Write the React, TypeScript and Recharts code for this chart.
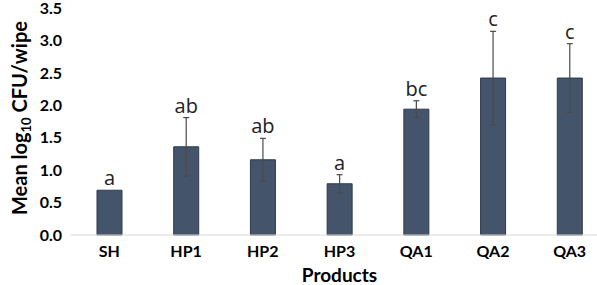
import { BarChart, Bar, XAxis, YAxis, ErrorBar, LabelList } from 'recharts';

const products = ['SH', 'HP1', 'HP2', 'HP3', 'QA1', 'QA2', 'QA3'];
const means = [0.69, 1.36, 1.16, 0.79, 1.94, 2.42, 2.42];
const errors = [0, 0.45, 0.33, 0.14, 0.13, 0.72, 0.53];
const letters = ['a', 'ab', 'ab', 'a', 'bc', 'c', 'c'];
const yTicks = [0, 0.5, 1, 1.5, 2, 2.5, 3, 3.5];

const data = products.map((p, i) => ({
  product: p,
  mean: means[i],
  err: errors[i],
  letter: letters[i],
}));

// letters sit just above the top of each error bar
const LetterLabel = (props: any) => {
  const { x, y, width, height, index } = props;
  const pxPerUnit = height / means[index];
  const top = y - errors[index] * pxPerUnit;
  return (
    <text
      x={x + width / 2}
      y={top - 5}
      textAnchor="middle"
      fontFamily="'Open Sans', sans-serif"
      fontSize={20}
      fill="#222"
    >
      {letters[index]}
    </text>
  );
};

const YLabel = () => (
  <text
    x={0}
    y={0}
    transform="translate(27,118) rotate(-90)"
    textAnchor="middle"
    fontFamily="Lato, sans-serif"
    fontWeight="bold"
    fontSize={20}
    fill="#000"
  >
    Mean log<tspan fontSize={13} dy={4}>10</tspan>
    <tspan dy={-4}> CFU/wipe</tspan>
  </text>
);

export default function App() {
  return (
    <div style={{ position: 'absolute', top: 0, left: 0, width: 597, height: 285, overflow: 'hidden', background: '#fff' }}>
      <BarChart width={610} height={285} data={data} margin={{ top: 8, right: 2, left: 0, bottom: 0 }}>
        <XAxis
          dataKey="product"
          height={50}
          tickLine={false}
          axisLine={{ stroke: '#d9d9d9' }}
          tick={{ fill: '#000', fontSize: 16, fontWeight: 'bold', fontFamily: 'Lato, sans-serif' }}
          tickMargin={5}
          interval={0}
          label={{ value: 'Products', position: 'insideBottom', offset: 3, fill: '#000', fontSize: 19, fontWeight: 'bold', fontFamily: 'Lato, sans-serif' }}
        />
        <YAxis
          width={71}
          domain={[0, 3.5]}
          ticks={yTicks}
          interval={0}
          tickFormatter={(v: number) => v.toFixed(1)}
          tickLine={false}
          axisLine={false}
          tickMargin={3}
          tick={{ fill: '#000', fontSize: 16, fontWeight: 'bold', fontFamily: 'Lato, sans-serif' }}
          label={<YLabel />}
        />
        <Bar dataKey="mean" fill="#44546a" stroke="#2f3b4d" strokeWidth={1} barSize={25} isAnimationActive={false}>
          <ErrorBar dataKey="err" width={3} stroke="#4a4a4a" strokeWidth={1.2} />
          <LabelList dataKey="letter" content={<LetterLabel />} />
        </Bar>
      </BarChart>
    </div>
  );
}
